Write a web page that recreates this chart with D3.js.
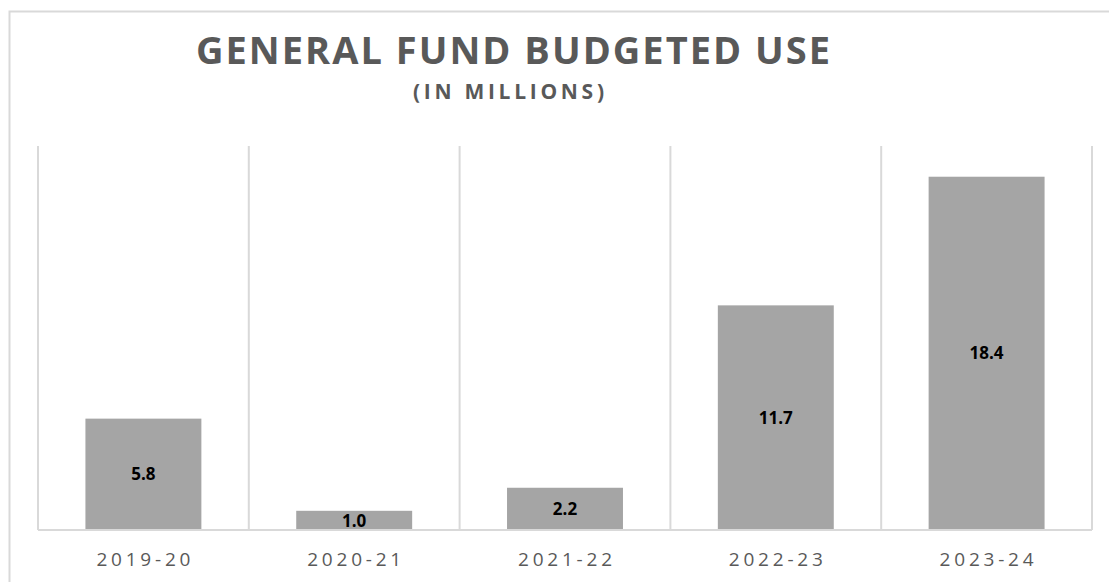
<!DOCTYPE html>
<html>
<head>
<meta charset="utf-8">
<script src="https://cdn.jsdelivr.net/npm/d3@7"></script>
<style>
  body { margin: 0; background: #fff; }
  svg { display: block; font-family: "Open Sans", sans-serif; }
</style>
</head>
<body>
<svg id="chart" width="1109" height="582"></svg>
<script>
// Chart data
const years = ["2019-20", "2020-21", "2021-22", "2022-23", "2023-24"];
const budgetedUse = [5.8, 1.0, 2.2, 11.7, 18.4];
const yMax = 20;

const svg = d3.select("#chart");

// Outer chart border (runs off right and bottom edges)
svg.append("rect")
  .attr("x", 9.5).attr("y", 11.5)
  .attr("width", 1200).attr("height", 700)
  .attr("fill", "none")
  .attr("stroke", "#d9d9d9")
  .attr("stroke-width", 2);

// Plot area
const plotLeft = 38, plotRight = 1092, plotTop = 146, plotBottom = 530;

const x = d3.scaleBand()
  .domain(years)
  .range([plotLeft, plotRight])
  .paddingInner(0.45)
  .paddingOuter(0.225);

const y = d3.scaleLinear()
  .domain([0, yMax])
  .range([plotBottom, plotTop]);

// Vertical separators between categories
const step = (plotRight - plotLeft) / years.length;
const seps = d3.range(years.length + 1).map(i => plotLeft + i * step);
svg.append("g")
  .selectAll("line")
  .data(seps)
  .join("line")
  .attr("x1", d => d).attr("x2", d => d)
  .attr("y1", plotTop).attr("y2", plotBottom)
  .attr("stroke", "#d9d9d9")
  .attr("stroke-width", 2);

// Bars
svg.append("g")
  .selectAll("rect")
  .data(budgetedUse)
  .join("rect")
  .attr("x", (d, i) => x(years[i]))
  .attr("y", d => y(d))
  .attr("width", x.bandwidth())
  .attr("height", d => y(0) - y(d))
  .attr("fill", "#a5a5a5");

// Axis line
svg.append("line")
  .attr("x1", plotLeft).attr("x2", plotRight)
  .attr("y1", plotBottom).attr("y2", plotBottom)
  .attr("stroke", "#d9d9d9")
  .attr("stroke-width", 2);

// Value labels, centered inside bars
svg.append("g")
  .selectAll("text")
  .data(budgetedUse)
  .join("text")
  .attr("x", (d, i) => x(years[i]) + x.bandwidth() / 2)
  .attr("y", d => (y(d) + y(0)) / 2)
  .attr("dy", "0.36em")
  .attr("text-anchor", "middle")
  .attr("font-size", 17)
  .attr("font-weight", "bold")
  .attr("fill", "#000")
  .text(d => d.toFixed(1));

// Category labels
svg.append("g")
  .selectAll("text")
  .data(years)
  .join("text")
  .attr("x", d => x(d) + x.bandwidth() / 2 - 47)
  .attr("y", 566)
  .attr("textLength", 94)
  .attr("lengthAdjust", "spacing")
  .attr("font-size", 19)
  .attr("fill", "#595959")
  .text(d => d);

// Title
svg.append("text")
  .attr("x", 196).attr("y", 64)
  .attr("textLength", 634)
  .attr("lengthAdjust", "spacing")
  .attr("font-size", 38)
  .attr("font-weight", "bold")
  .attr("fill", "#595959")
  .text("GENERAL FUND BUDGETED USE");

svg.append("text")
  .attr("x", 413).attr("y", 99)
  .attr("textLength", 191)
  .attr("lengthAdjust", "spacing")
  .attr("font-size", 21)
  .attr("font-weight", "bold")
  .attr("fill", "#595959")
  .text("(IN MILLIONS)");
</script>
</body>
</html>
